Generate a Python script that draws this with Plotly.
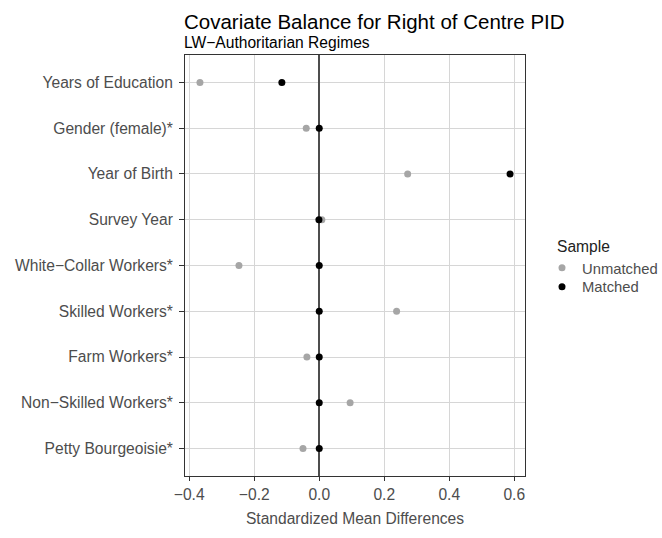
import plotly.graph_objects as go

categories = ["Years of Education", "Gender (female)*", "Year of Birth", "Survey Year",
              "White\u2212Collar Workers*", "Skilled Workers*", "Farm Workers*",
              "Non\u2212Skilled Workers*", "Petty Bourgeoisie*"]
unmatched = [-0.367, -0.040, 0.272, 0.008, -0.247, 0.238, -0.038, 0.095, -0.050]
matched = [-0.115, 0.000, 0.587, -0.001, 0.000, 0.000, 0.000, 0.000, 0.000]
x_ticks = [-0.4, -0.2, 0.0, 0.2, 0.4, 0.6]
x_ticklabels = ["\u22120.4", "\u22120.2", "0.0", "0.2", "0.4", "0.6"]

n = len(categories)
ypos = [n - i for i in range(n)]

FONT = "Liberation Sans, Arial, sans-serif"
FS = 15.6

fig = go.Figure()
fig.add_trace(go.Scatter(x=unmatched, y=ypos, mode="markers", name="Unmatched",
                         marker=dict(color="#A6A6A6", size=7), cliponaxis=False,
                         legend="legend"))
fig.add_trace(go.Scatter(x=matched, y=ypos, mode="markers", name="Matched",
                         marker=dict(color="#000000", size=7), cliponaxis=False,
                         legend="legend2"))

leg_common = dict(xanchor="left", yanchor="top", font=dict(size=14.8, color="#4D4D4D"),
                  itemwidth=30, tracegroupgap=0, bgcolor="rgba(0,0,0,0)")

fig.update_layout(
    width=662, height=538,
    margin=dict(l=185, r=137, t=55, b=62, autoexpand=False),
    paper_bgcolor="white", plot_bgcolor="white",
    font=dict(family=FONT, size=FS, color="#4D4D4D"),
    showlegend=True,
    legend=dict(x=1.050, y=0.533, **leg_common),
    legend2=dict(x=1.050, y=0.488, **leg_common),
    xaxis=dict(range=[-0.413, 0.633], tickvals=x_ticks, ticktext=x_ticklabels,
               showgrid=True, gridcolor="#D6D6D6", gridwidth=1,
               zeroline=True, zerolinecolor="#4D4D4D", zerolinewidth=1.6,
               showline=True, linecolor="#333333", linewidth=1,
               mirror=True, ticks="outside", ticklen=4, tickcolor="#333333",
               tickfont=dict(size=FS, color="#4D4D4D"), automargin=False,
               title=dict(text="Standardized Mean Differences", standoff=11,
                          font=dict(size=FS, color="#4D4D4D"))),
    yaxis=dict(range=[0.4, 9.6], tickvals=ypos, ticktext=categories,
               showgrid=True, gridcolor="#D6D6D6", gridwidth=1,
               zeroline=False, showline=True, linecolor="#333333", linewidth=1,
               mirror=True, ticks="outside", ticklen=5, tickcolor="#333333",
               ticklabelstandoff=3, automargin=False,
               tickfont=dict(size=FS, color="#4D4D4D")),
    annotations=[
        dict(text="Covariate Balance for Right of Centre PID", xref="paper", yref="paper",
             x=-0.008, y=1.0, yshift=34, xanchor="left", yanchor="middle", showarrow=False,
             font=dict(size=20.5, color="#000000", family=FONT)),
        dict(text="LW\u2212Authoritarian Regimes", xref="paper", yref="paper",
             x=-0.008, y=1.0, yshift=13, xanchor="left", yanchor="middle", showarrow=False,
             font=dict(size=FS, color="#000000", family=FONT)),
        dict(text="Sample", xref="paper", yref="paper",
             x=1.088, y=0.5463, xanchor="left", yanchor="middle", showarrow=False,
             font=dict(size=FS, color="#222222", family=FONT)),
    ],
)

fig.write_html("out.html", config={"displayModeBar": False},
               post_script="document.body.style.margin='0';")
